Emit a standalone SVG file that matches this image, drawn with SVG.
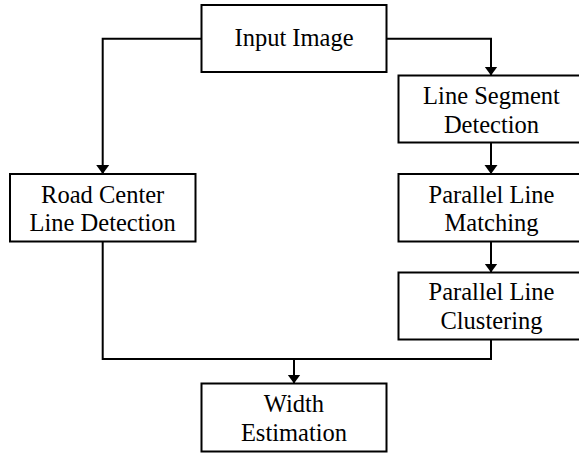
<svg xmlns="http://www.w3.org/2000/svg" width="579" height="453" viewBox="0 0 579 453">
<style>
.box{fill:#fff;stroke:#000;stroke-width:2}
.lbl{font-family:"Liberation Serif","Times New Roman",serif;font-size:24.5px;fill:#000;text-anchor:middle}
.con{fill:none;stroke:#000;stroke-width:2}
</style>
<defs>
<marker id="ah" markerUnits="userSpaceOnUse" markerWidth="10" markerHeight="14" refX="9" refY="7" orient="auto">
<path d="M0,0.5 L9,7 L0,13.5 z" fill="#000"/>
</marker>
</defs>
<rect width="579" height="453" fill="#fff"/>
<g id="connectors">
<polyline class="con" points="201.5,38.7 102.7,38.7 102.7,174" marker-end="url(#ah)"/>
<polyline class="con" points="386.5,38.7 491,38.7 491,75.5" marker-end="url(#ah)"/>
<line class="con" x1="491" y1="142.5" x2="491" y2="174" marker-end="url(#ah)"/>
<line class="con" x1="491" y1="241.5" x2="491" y2="272.5" marker-end="url(#ah)"/>
<polyline class="con" points="102.7,241.5 102.7,359 491,359 491,339.5"/>
<line class="con" x1="294" y1="359" x2="294" y2="383.5" marker-end="url(#ah)"/>
</g>
<g id="input">
<rect class="box" x="201.5" y="5" width="185" height="67"/>
<text class="lbl" x="294" y="46">Input Image</text>
</g>
<g id="lineseg">
<rect class="box" x="398.5" y="75.5" width="185" height="67"/>
<text class="lbl" x="491.5" y="103.5">Line Segment</text>
<text class="lbl" x="491.5" y="132.5">Detection</text>
</g>
<g id="road">
<rect class="box" x="10" y="174" width="185.5" height="67.5"/>
<text class="lbl" x="102.7" y="202.5">Road Center</text>
<text class="lbl" x="102.7" y="231">Line Detection</text>
</g>
<g id="matching">
<rect class="box" x="398.5" y="174" width="185" height="67.5"/>
<text class="lbl" x="491.5" y="202.5">Parallel Line</text>
<text class="lbl" x="491.5" y="231">Matching</text>
</g>
<g id="clustering">
<rect class="box" x="398.5" y="272.5" width="185" height="67"/>
<text class="lbl" x="491.5" y="300">Parallel Line</text>
<text class="lbl" x="491.5" y="328.5">Clustering</text>
</g>
<g id="width">
<rect class="box" x="201.5" y="383.5" width="185" height="68"/>
<text class="lbl" x="294" y="411.5">Width</text>
<text class="lbl" x="294" y="441">Estimation</text>
</g>
</svg>
